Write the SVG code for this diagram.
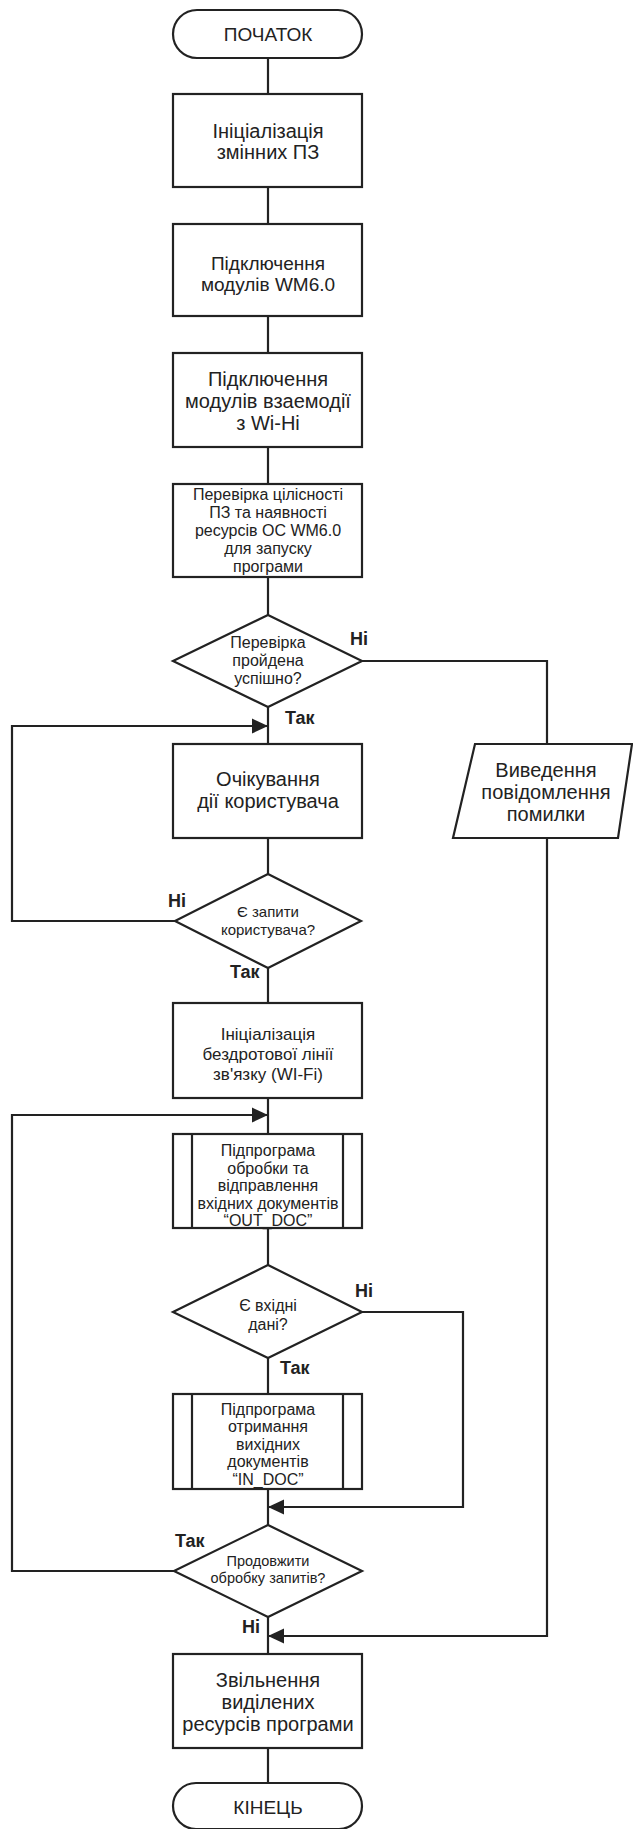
<svg xmlns="http://www.w3.org/2000/svg" width="633" height="1829" viewBox="0 0 633 1829">
<style>
.s{fill:#fff;stroke:#222;stroke-width:2.2}
.c{fill:none;stroke:#222;stroke-width:2.2}
.t{font-family:"Liberation Sans",Arial,sans-serif;fill:#222;text-anchor:middle}
.l{font-family:"Liberation Sans",Arial,sans-serif;fill:#222;font-weight:bold;font-size:18px}
.f20{font-size:20px}.f19{font-size:19px}.f17{font-size:17px}.f16{font-size:16px}.f15{font-size:15px}.f14{font-size:14.5px}
</style>
<defs>
<marker id="ah" markerUnits="userSpaceOnUse" markerWidth="16" markerHeight="16" viewBox="0 0 16 16" refX="16" refY="8" orient="auto">
<path d="M0,0.5 L16,8 L0,15.5 Z" fill="#222"/>
</marker>
</defs>
<rect width="633" height="1829" fill="#fff"/>
<g id="connectors">
<path class="c" d="M268,58V94M268,187V224M268,316V353M268,447V484M268,577V615M268,707V744M268,838V874M268,968V1003M268,1098V1134M268,1228V1265M268,1358V1394M268,1489V1525M268,1617V1654M268,1748V1783"/>
<path class="c" d="M175,921H12V726H268" marker-end="url(#ah)"/>
<path class="c" d="M174,1571H12V1115H268" marker-end="url(#ah)"/>
<path class="c" d="M362,1312H463V1507H268" marker-end="url(#ah)"/>
<path class="c" d="M362,661H547V744"/>
<path class="c" d="M547,838V1636H268" marker-end="url(#ah)"/>
<text class="l" x="350" y="645">Ні</text>
<text class="l" x="285" y="724">Так</text>
<text class="l" x="168" y="907">Ні</text>
<text class="l" x="230" y="978">Так</text>
<text class="l" x="355" y="1297">Ні</text>
<text class="l" x="280" y="1374">Так</text>
<text class="l" x="175" y="1547">Так</text>
<text class="l" x="242" y="1633">Ні</text>
</g>
<g id="start">
<rect class="s" x="173" y="10" width="189" height="48" rx="24"/>
<text class="t f19" x="268" y="41">ПОЧАТОК</text>
</g>
<g id="init_vars">
<rect class="s" x="173" y="94" width="189" height="93"/>
<text class="t f20" x="268" y="138">Ініціалізація</text>
<text class="t f20" x="268" y="159">змінних ПЗ</text>
</g>
<g id="wm_modules">
<rect class="s" x="173" y="224" width="189" height="92"/>
<text class="t f19" x="268" y="270">Підключення</text>
<text class="t f19" x="268" y="291">модулів WM6.0</text>
</g>
<g id="wifi_modules">
<rect class="s" x="173" y="353" width="189" height="94"/>
<text class="t f20" x="268" y="386">Підключення</text>
<text class="t f20" x="268" y="408">модулів взаемодії</text>
<text class="t f20" x="268" y="430">з Wi-Hi</text>
</g>
<g id="check_integrity">
<rect class="s" x="173" y="484" width="189" height="93"/>
<text class="t f16" x="268" y="500">Перевірка цілісності</text>
<text class="t f16" x="268" y="518">ПЗ та наявності</text>
<text class="t f16" x="268" y="536">ресурсів ОС WM6.0</text>
<text class="t f16" x="268" y="554">для запуску</text>
<text class="t f16" x="268" y="572">програми</text>
</g>
<g id="check_passed">
<polygon class="s" points="268,615 362,661 268,707 173,661"/>
<text class="t f16" x="268" y="648">Перевірка</text>
<text class="t f16" x="268" y="666">пройдена</text>
<text class="t f16" x="268" y="684">успішно?</text>
</g>
<g id="wait_user">
<rect class="s" x="173" y="744" width="189" height="94"/>
<text class="t f20" x="268" y="786">Очікування</text>
<text class="t f20" x="268" y="808">дії користувача</text>
</g>
<g id="error_output">
<polygon class="s" points="475,744 632,744 618,838 453,838"/>
<text class="t f20" x="546" y="777">Виведення</text>
<text class="t f20" x="546" y="799">повідомлення</text>
<text class="t f20" x="546" y="821">помилки</text>
</g>
<g id="user_requests">
<polygon class="s" points="268,874 361,921 268,968 175,921"/>
<text class="t f15" x="268" y="917">Є запити</text>
<text class="t f15" x="268" y="935">користувача?</text>
</g>
<g id="init_wifi">
<rect class="s" x="173" y="1003" width="189" height="95"/>
<text class="t f17" x="268" y="1040">Ініціалізація</text>
<text class="t f17" x="268" y="1060">бездротової лінії</text>
<text class="t f17" x="268" y="1080">зв'язку (WI-Fi)</text>
</g>
<g id="out_doc">
<rect class="s" x="173" y="1134" width="189" height="94"/>
<path class="c" d="M192,1134V1228M343,1134V1228"/>
<text class="t f16" x="268" y="1156">Підпрограма</text>
<text class="t f16" x="268" y="1173.5">обробки та</text>
<text class="t f16" x="268" y="1191">відправлення</text>
<text class="t f16" x="268" y="1208.5">вхідних документів</text>
<text class="t f16" x="268" y="1226">“OUT_DOC”</text>
</g>
<g id="input_data">
<polygon class="s" points="268,1265 362,1312 268,1358 173,1312"/>
<text class="t f16" x="268" y="1311">Є вхідні</text>
<text class="t f16" x="268" y="1330">дані?</text>
</g>
<g id="in_doc">
<rect class="s" x="173" y="1394" width="189" height="95"/>
<path class="c" d="M192,1394V1489M343,1394V1489"/>
<text class="t f16" x="268" y="1414.5">Підпрограма</text>
<text class="t f16" x="268" y="1432">отримання</text>
<text class="t f16" x="268" y="1449.5">вихідних</text>
<text class="t f16" x="268" y="1467">документів</text>
<text class="t f16" x="268" y="1484.5">“IN_DOC”</text>
</g>
<g id="continue">
<polygon class="s" points="268,1525 362,1571 268,1617 174,1571"/>
<text class="t f14" x="268" y="1566">Продовжити</text>
<text class="t f14" x="268" y="1583">обробку запитів?</text>
</g>
<g id="free_resources">
<rect class="s" x="173" y="1654" width="189" height="94"/>
<text class="t f20" x="268" y="1687">Звільнення</text>
<text class="t f20" x="268" y="1709">виділених</text>
<text class="t f20" x="268" y="1731">ресурсів програми</text>
</g>
<g id="end">
<rect class="s" x="173" y="1783" width="189" height="46" rx="23"/>
<text class="t f19" x="268" y="1814">КІНЕЦЬ</text>
</g>
</svg>
